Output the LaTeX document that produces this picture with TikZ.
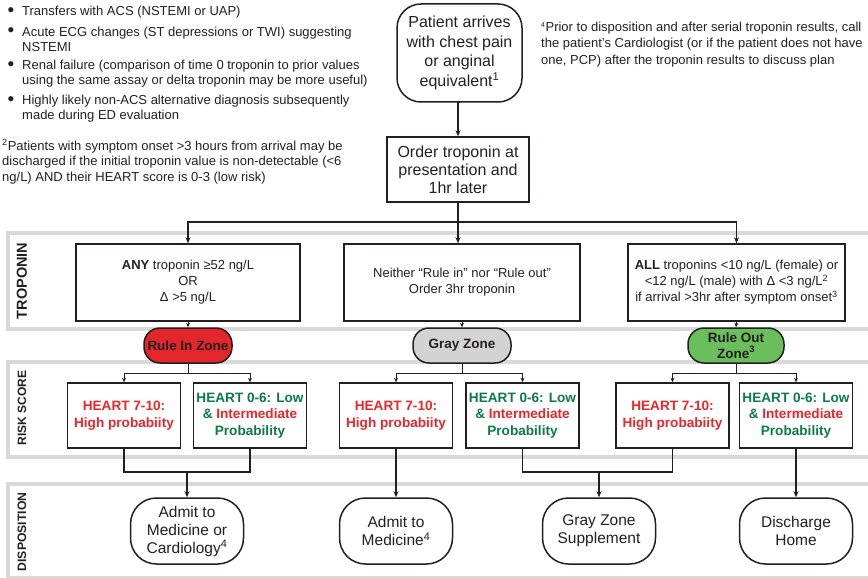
\documentclass[tikz,border=0pt]{standalone}
\usepackage{fontspec}
\setmainfont{Liberation Sans}
\usetikzlibrary{arrows.meta}
\definecolor{rred}{HTML}{E8262B}
\definecolor{rgreen}{HTML}{0B7B47}
\definecolor{zred}{HTML}{E3262B}
\definecolor{zgray}{HTML}{D3D3D3}
\definecolor{zgreen}{HTML}{6BBE5C}
\definecolor{lanegray}{HTML}{D9D9D9}
\definecolor{ink}{HTML}{231F20}
\begin{document}
\begin{tikzpicture}[x=1pt,y=-1pt,
  box/.style={draw=ink, line width=1.5pt, align=center, inner sep=0pt, text=ink},
  bigtxt/.style={font=\fontsize{16}{19.5}\selectfont},
  midtxt/.style={font=\fontsize{13}{16}\selectfont},
  disptxt/.style={font=\fontsize{15.5}{18}\selectfont},
  risktxt/.style={font=\bfseries\fontsize{13.6}{16.5}\selectfont},
  zonetxt/.style={font=\bfseries\fontsize{13.5}{15.5}\selectfont},
  fntxt/.style={font=\fontsize{13}{15.5}\selectfont, align=left, inner sep=0pt, anchor=west, text=ink},
  bul/.style={font=\fontsize{19}{19}\selectfont, inner sep=0pt, text=ink},
  tbox/.style={box, midtxt, minimum height=77pt},
  zone/.style={box, zonetxt, rounded corners=16pt, minimum height=35pt},
  rbox/.style={box, risktxt, minimum width=113pt, minimum height=65pt},
  dbox/.style={box, disptxt, rounded corners=26pt, minimum width=113pt, minimum height=66pt},
  lane/.style={draw=lanegray, line width=4pt},
  lanelbl/.style={rotate=90, inner sep=0pt, text=ink},
  conn/.style={draw=ink, line width=1.1pt},
  arr/.style={conn, -{Stealth[length=6pt,width=5pt]}},
  sarr/.style={draw=ink, line width=0.9pt, -{Stealth[length=4.5pt,width=4pt]}}
]
\useasboundingbox (0,0) rectangle (868,578);
\clip (0,0) rectangle (868,578);

% lanes
\draw[lane] (8,233) rectangle (890,329);
\draw[lane] (8,362) rectangle (890,457);
\draw[lane] (8,484) rectangle (890,578);
\node[lanelbl, font=\bfseries\fontsize{14.5}{16}\selectfont] (lt) at (22,281) {TROPONIN};
\node[lanelbl, font=\bfseries\fontsize{12}{14}\selectfont] (lr) at (22,408) {RISK SCORE};
\node[lanelbl, font=\bfseries\fontsize{12.2}{14}\selectfont] (ld) at (22,532) {DISPOSITION};

% footnotes
\node[bul] (b1) at (11,12.5) {\textbullet};
\node[fntxt] (f1) at (22,12) {Transfers with ACS (NSTEMI or UAP)};
\node[bul] (b2) at (11,32.5) {\textbullet};
\node[fntxt] (f2) at (22,39.5) {Acute ECG changes (ST depressions or TWI) suggesting\\NSTEMI};
\node[bul] (b3) at (11,66.5) {\textbullet};
\node[fntxt] (f3) at (22,73.5) {Renal failure (comparison of time 0 troponin to prior values\\using the same assay or delta troponin may be more useful)};
\node[bul] (b4) at (11,101.5) {\textbullet};
\node[fntxt] (f4) at (22,108.5) {Highly likely non-ACS alternative diagnosis subsequently\\made during ED evaluation};
\node[fntxt] (fn2) at (2,161.5) {\textsuperscript{2}Patients with symptom onset >3 hours from arrival may be\\discharged if the initial troponin value is non-detectable (<6\\ng/L) AND their HEART score is 0-3 (low risk)};
\node[fntxt, font=\fontsize{13}{16.5}\selectfont] (fn4) at (541,44.5) {\textsuperscript{\scriptsize 4}Prior to disposition and after serial troponin results, call\\the patient’s Cardiologist (or if the patient does not have\\one, PCP) after the troponin results to discuss plan};

% top nodes
\node[box, bigtxt, rounded corners=24pt, minimum width=125pt, minimum height=98pt] (pat) at (459.5,53) {Patient arrives\\with chest pain\\or anginal\\equivalent\textsuperscript{1}};
\node[box, font=\fontsize{16}{18}\selectfont, minimum width=142pt, minimum height=65pt] (ord) at (458,169.5) {Order troponin at\\presentation and\\1hr later};

% troponin boxes
\node[tbox, minimum width=224pt] (tL) at (188,282.5) {\textbf{ANY} troponin ≥52 ng/L\\OR\\Δ >5 ng/L};
\node[tbox, minimum width=236pt] (tM) at (462,282.5) {Neither “Rule in” nor “Rule out”\\Order 3hr troponin};
\node[tbox, minimum width=217pt] (tR) at (736.5,282.5) {\textbf{ALL} troponins <10 ng/L (female) or\\<12 ng/L (male) with Δ <3 ng/L\textsuperscript{2}\\if arrival >3hr after symptom onset\textsuperscript{3}};

% zones
\node[zone, fill=zred, minimum width=88pt] (zIn) at (188,345.5) {Rule In Zone};
\node[zone, fill=zgray, minimum width=98pt] (zGr) at (462,345.5) {Gray Zone};
\node[zone, fill=zgreen, minimum width=96pt] (zOut) at (736,345.5) {Rule Out\\Zone\textsuperscript{3}};

% risk boxes
\node[rbox, text=rred] (r1) at (124,415.5) {HEART 7-10:\\High probabiity};
\node[rbox, text=rgreen] (r2) at (250,415.5) {HEART 0-6: Low\\\& {\color{rred}Intermediate}\\Probability};
\node[rbox, text=rred] (r3) at (396,415.5) {HEART 7-10:\\High probabiity};
\node[rbox, text=rgreen] (r4) at (522.5,415.5) {HEART 0-6: Low\\\& {\color{rred}Intermediate}\\Probability};
\node[rbox, text=rred] (r5) at (672.5,415.5) {HEART 7-10:\\High probabiity};
\node[rbox, text=rgreen] (r6) at (796,415.5) {HEART 0-6: Low\\\& {\color{rred}Intermediate}\\Probability};

% disposition
\node[dbox] (d1) at (187,531) {Admit to\\Medicine or\\Cardiology\textsuperscript{4}};
\node[dbox] (d2) at (396,531) {Admit to\\Medicine\textsuperscript{4}};
\node[dbox] (d3) at (599,531) {Gray Zone\\Supplement};
\node[dbox] (d4) at (796,531) {Discharge\\Home};

% connectors
\coordinate (split) at (458,222);
\draw[arr] (pat.south) -- (ord.south |- pat.south) -- (ord.north);
\draw[arr] (ord.south) -- (ord.south |- tM.north);
\draw[arr] (split) -| (tL.north);
\draw[arr] (split) -| (tR.north);

\draw[sarr] (tL.south) -- (zIn.north);
\draw[sarr] (tM.south) -- (zGr.north);
\draw[sarr] (tR.south) -- (zOut.north);

\coordinate (bIn) at (188,373);
\coordinate (bGr) at (462,373);
\coordinate (bOut) at (736,373);
\draw[conn, line width=0.9pt] (zIn.south) -- (bIn);
\draw[conn, line width=0.9pt] (zGr.south) -- (bGr);
\draw[conn, line width=0.9pt] (zOut.south) -- (bOut);
\draw[sarr] (bIn) -| (r1.north);
\draw[sarr] (bIn) -| (r2.north);
\draw[sarr] (bGr) -| (r3.north);
\draw[sarr] (bGr) -| (r4.north);
\draw[sarr] (bOut) -| (r5.north);
\draw[sarr] (bOut) -| (r6.north);

\coordinate (j1) at (187,472);
\coordinate (j2) at (599,472);
\draw[conn] (r1.south) |- (j1) -| (r2.south);
\draw[arr] (j1) -- (d1.north);
\draw[arr] (r3.south) -- (d2.north);
\draw[conn] (r4.south) |- (j2) -| (r5.south);
\draw[arr] (j2) -- (d3.north);
\draw[arr] (r6.south) -- (d4.north);
\end{tikzpicture}
\end{document}
